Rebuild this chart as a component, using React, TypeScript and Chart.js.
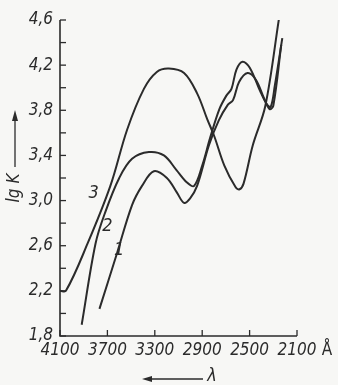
import { useEffect, useRef } from "react";
import { Chart, registerables } from "chart.js";

Chart.register(...registerables);

// Curve 1
const lambda1 = [3767, 3617, 3492, 3408, 3308, 3198, 3113, 3053, 3002, 2943, 2843, 2760, 2683, 2640, 2589, 2517, 2447, 2376, 2331, 2300, 2233];
const lgK1 = [2.04, 2.54, 2.96, 3.13, 3.26, 3.2, 3.07, 2.98, 3.02, 3.13, 3.49, 3.71, 3.85, 3.89, 4.05, 4.13, 4.07, 3.9, 3.81, 3.84, 4.38];
// Curve 2
const lambda2 = [3917, 3800, 3717, 3600, 3492, 3350, 3223, 3117, 3028, 2968, 2900, 2832, 2755, 2696, 2653, 2611, 2560, 2500, 2411, 2358, 2322, 2287, 2224];
const lgK2 = [1.9, 2.62, 2.9, 3.2, 3.37, 3.43, 3.4, 3.27, 3.16, 3.13, 3.31, 3.56, 3.81, 3.93, 3.99, 4.16, 4.23, 4.18, 3.97, 3.86, 3.83, 4.02, 4.44];
// Curve 3
const lambda3 = [4100, 4050, 3867, 3675, 3533, 3392, 3283, 3181, 3053, 2943, 2857, 2798, 2713, 2619, 2585, 2551, 2473, 2367, 2251];
const lgK3 = [2.2, 2.2, 2.62, 3.13, 3.63, 3.99, 4.14, 4.17, 4.13, 3.95, 3.72, 3.57, 3.31, 3.12, 3.1, 3.15, 3.49, 3.84, 4.62];

const seriesNames = ["1", "2", "3"];
const xTickValues = [4100, 3700, 3300, 2900, 2500, 2100];
const yMajorTicks = [1.8, 2.2, 2.6, 3.0, 3.4, 3.8, 4.2, 4.6];
// label anchors (λ, lgK) for curve numbers
const labelLambda = [3600, 3700, 3817];
const labelLgK = [2.56, 2.77, 3.06];

const FONT = "'Liberation Sans Narrow', 'DejaVu Sans Condensed', 'Liberation Sans', sans-serif";
const INK = "#2b2b2b";
const BG = "#f7f7f5";

function pts(xs: number[], ys: number[]) {
  return xs.map((x, i) => ({ x, y: ys[i] }));
}

export default function App() {
  const ref = useRef<HTMLCanvasElement | null>(null);
  useEffect(() => {
    document.body.style.margin = "0";
    document.body.style.background = BG;
    const canvas = ref.current!;
    const decor = {
      id: "decor",
      beforeDraw(chart: any) {
        const c = chart.ctx;
        c.save();
        c.fillStyle = BG;
        c.fillRect(0, 0, chart.width, chart.height);
        c.restore();
      },
      afterDraw(chart: any) {
        const c = chart.ctx;
        const xs = chart.scales.x;
        const ys = chart.scales.y;
        const a = chart.chartArea;
        c.save();
        c.strokeStyle = INK;
        c.lineWidth = 1.6;
        c.beginPath();
        c.moveTo(a.left, a.top);
        c.lineTo(a.left, a.bottom);
        c.lineTo(a.right, a.bottom);
        c.stroke();
        // y ticks (inward)
        c.lineWidth = 1.3;
        for (const t of ys.ticks) {
          const py = ys.getPixelForValue(t.value);
          c.beginPath();
          c.moveTo(a.left, py);
          c.lineTo(a.left + 6, py);
          c.stroke();
        }
        for (const v of xTickValues) {
          const px = xs.getPixelForValue(v);
          c.beginPath();
          c.moveTo(px, a.bottom);
          c.lineTo(px, a.bottom - 6);
          c.stroke();
        }
        // curve labels
        c.fillStyle = INK;
        c.font = `italic 18px ${FONT}`;
        c.textAlign = "center";
        c.textBaseline = "middle";
        seriesNames.forEach((n, i) => {
          c.fillText(n, xs.getPixelForValue(labelLambda[i]), ys.getPixelForValue(labelLgK[i]));
        });
        // Angstrom
        c.font = `17px ${FONT}`;
        c.fillText("Å", a.right + 30, a.bottom + 15);
        // lambda arrow
        c.beginPath();
        c.moveTo(203, 379);
        c.lineTo(146, 379);
        c.stroke();
        c.beginPath();
        c.moveTo(142, 379);
        c.lineTo(152, 376);
        c.lineTo(152, 382);
        c.closePath();
        c.fill();
        c.font = `italic 18px ${FONT}`;
        c.fillText("λ", 212, 376);
        // lg K arrow
        c.beginPath();
        c.moveTo(15, 167);
        c.lineTo(15, 116);
        c.stroke();
        c.beginPath();
        c.moveTo(15, 110);
        c.lineTo(12, 121);
        c.lineTo(18, 121);
        c.closePath();
        c.fill();
        c.translate(15, 188);
        c.rotate(-Math.PI / 2);
        c.font = `italic 17px ${FONT}`;
        c.fillText("lg K", 0, 0);
        c.restore();
      },
    };
    const mk = (xs: number[], ys: number[]) => ({
      data: pts(xs, ys),
      borderColor: INK,
      borderWidth: 2,
      pointRadius: 0,
      fill: false,
      tension: 0.35,
    });
    const chart = new Chart(canvas, {
      type: "line",
      data: {
        datasets: [mk(lambda1, lgK1), mk(lambda2, lgK2), mk(lambda3, lgK3)],
      },
      options: {
        animation: false,
        responsive: false,
        devicePixelRatio: 1,
        layout: { padding: { top: 20, right: 41, left: 0, bottom: 0 } },
        plugins: { legend: { display: false }, tooltip: { enabled: false } },
        scales: {
          x: {
            type: "linear",
            reverse: true,
            min: 2100,
            max: 4100,
            afterFit: (s: any) => { s.height = 49; },
            afterBuildTicks: (s: any) => { s.ticks = xTickValues.map((v) => ({ value: v })); },
            grid: { display: false, drawTicks: false },
            border: { display: false },
            ticks: {
              padding: 4,
              color: INK,
              maxRotation: 0,
              autoSkip: false,
              font: { family: FONT, size: 17, style: "italic" },
              callback: (v: any) => String(v),
            },
          },
          y: {
            type: "linear",
            min: 1.8,
            max: 4.6,
            afterFit: (s: any) => { s.width = 60; },
            grid: { display: false, drawTicks: false },
            border: { display: false },
            ticks: {
              stepSize: 0.2,
              padding: 7,
              color: INK,
              autoSkip: false,
              font: { family: FONT, size: 17, style: "italic" },
              callback: (v: any) => {
                const n = Number(v);
                const hit = yMajorTicks.find((m) => Math.abs(m - n) < 1e-6);
                return hit === undefined ? "" : hit.toFixed(1).replace(".", ",");
              },
            },
          },
        },
      },
      plugins: [decor],
    } as any);
    return () => chart.destroy();
  }, []);
  return <canvas ref={ref} width={338} height={385} style={{ display: "block" }} />;
}
